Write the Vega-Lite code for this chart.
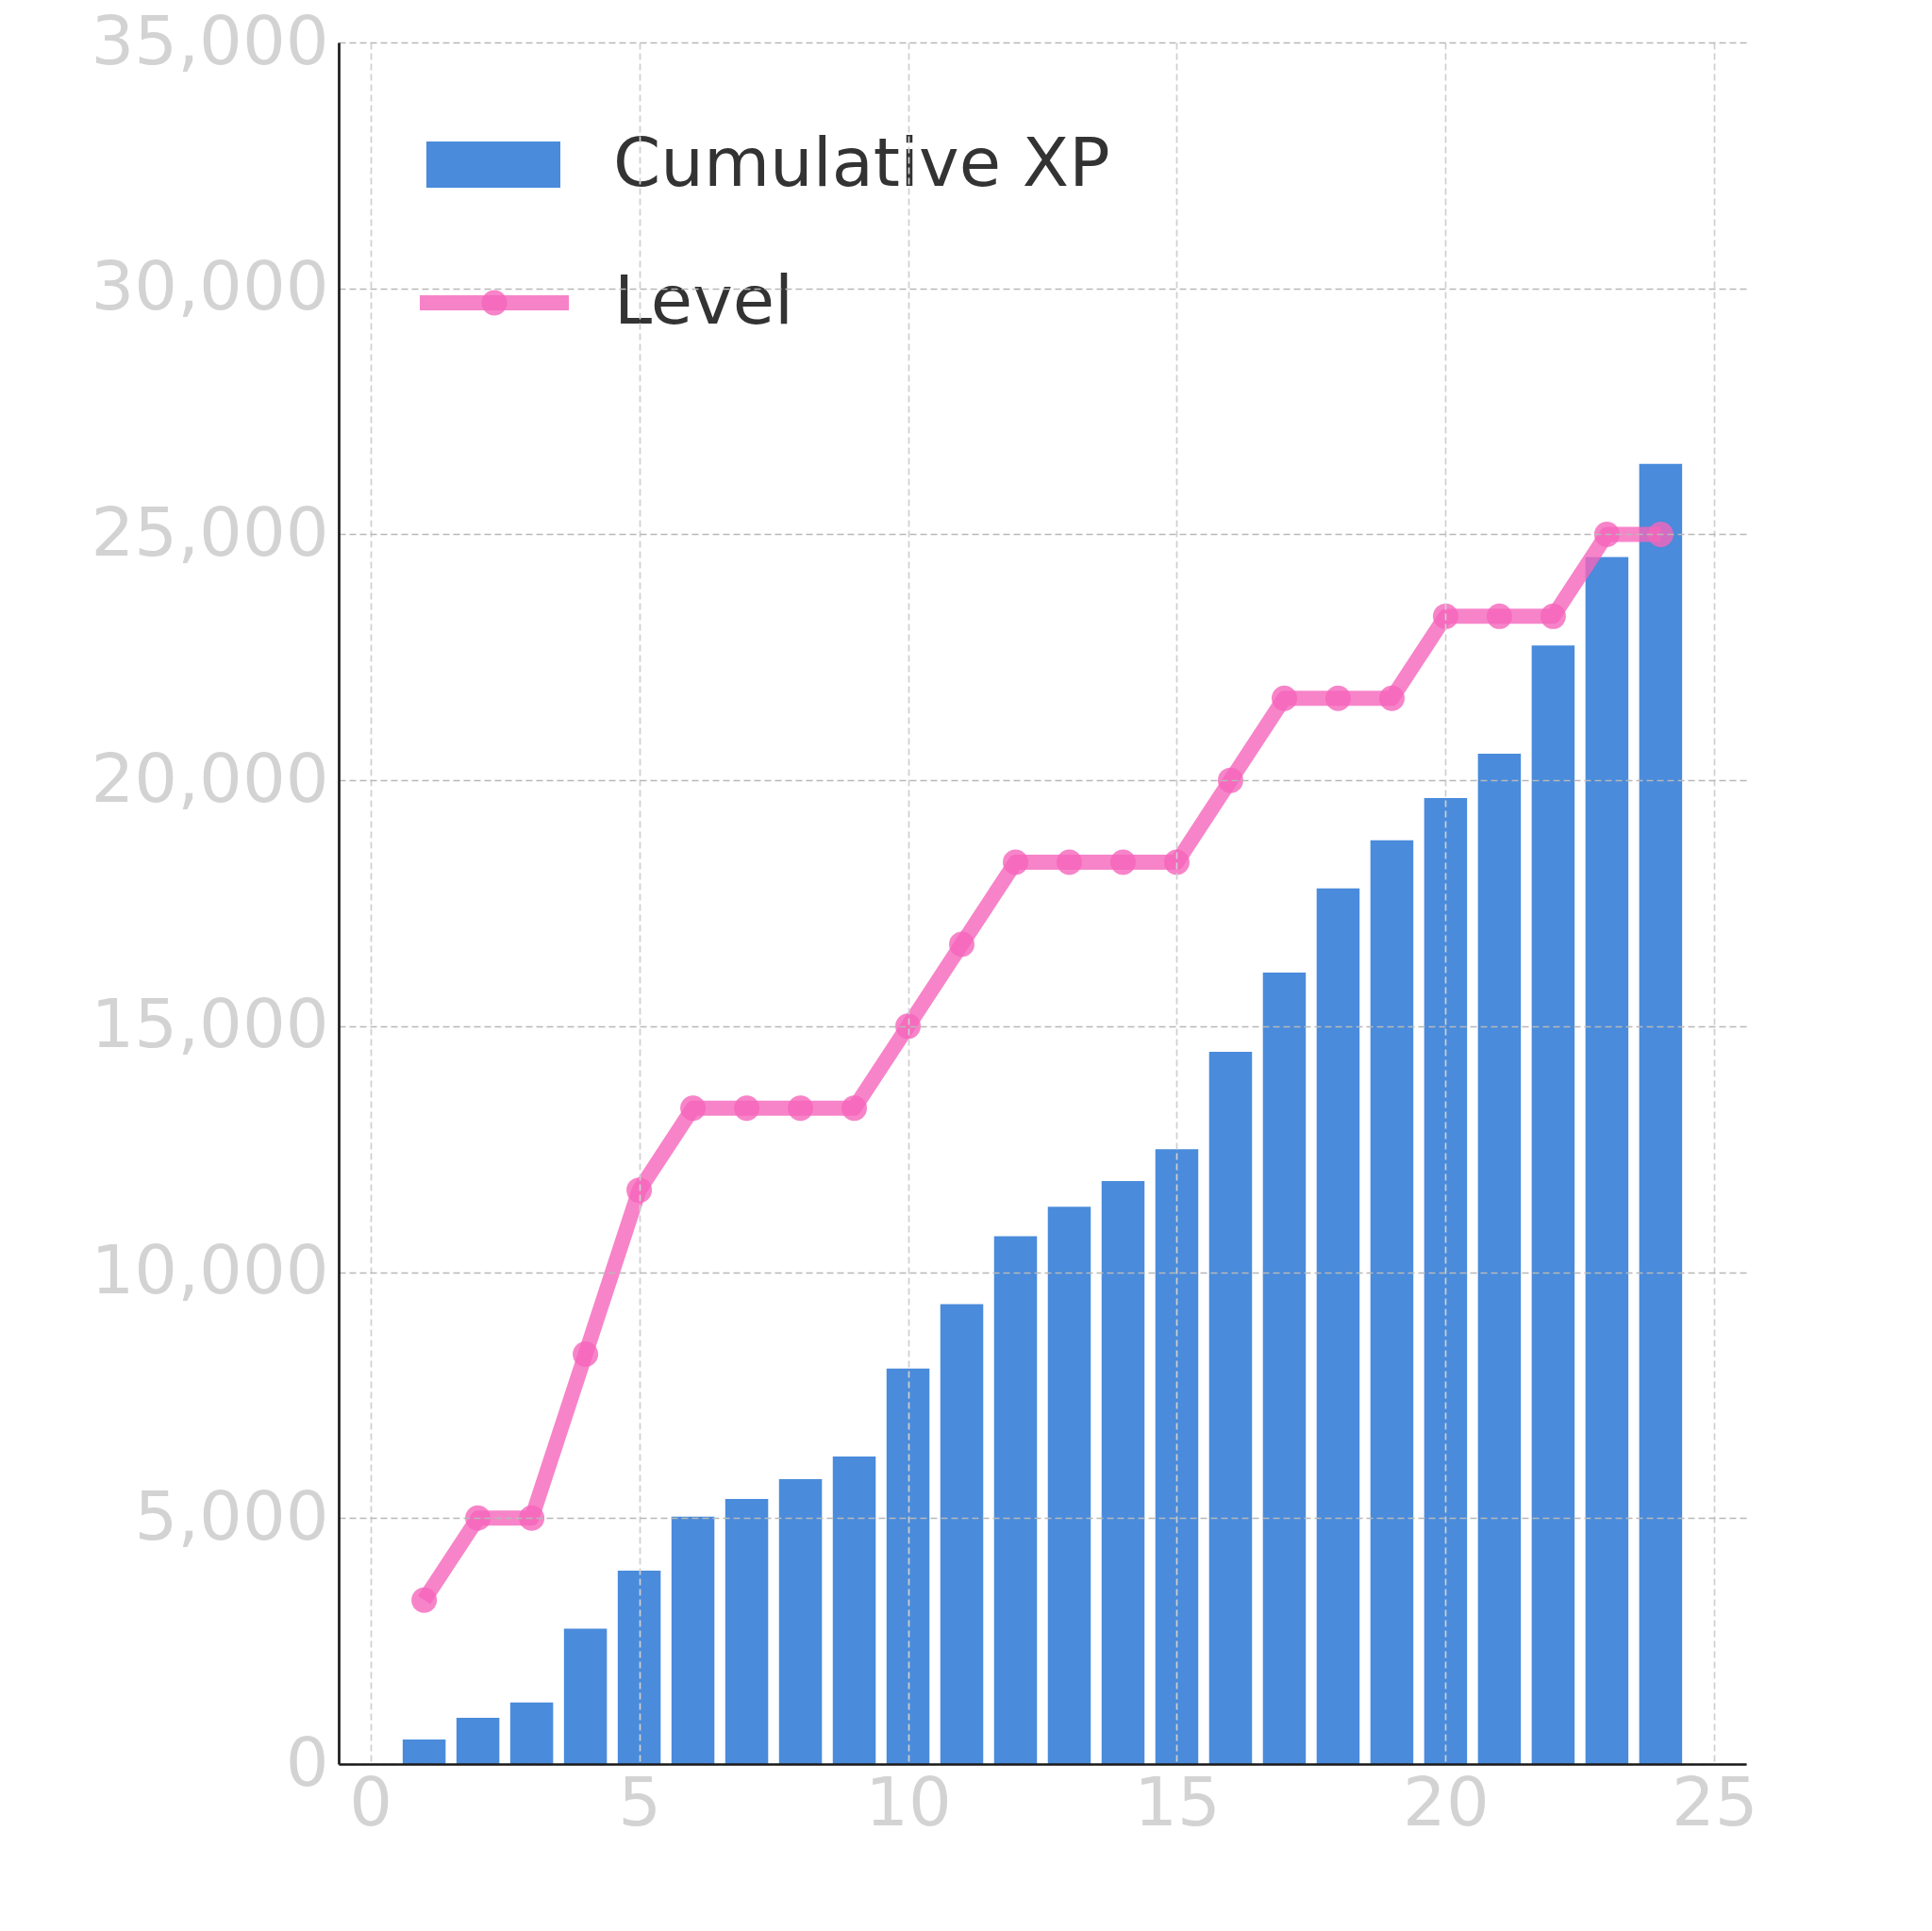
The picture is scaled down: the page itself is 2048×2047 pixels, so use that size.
{
  "$schema": "https://vega.github.io/schema/vega-lite/v6.json",
  "width": 1492,
  "height": 1825,
  "autosize": {"type": "none"},
  "padding": {"left": 359, "top": 45, "right": 197, "bottom": 177},
  "background": "white",
  "config": {
    "font": "DejaVu Sans",
    "view": {"stroke": null},
    "axis": {
      "labelFont": "DejaVu Sans",
      "labelFontSize": 72,
      "labelColor": "#d3d3d3",
      "labelLimit": 0,
      "ticks": false,
      "tickSize": 0,
      "title": null,
      "gridDash": [7, 4],
      "gridWidth": 1.7,
      "labelFlush": false,
      "labelOverlap": false
    },
    "legend": {
      "labelFont": "DejaVu Sans",
      "labelFontSize": 72,
      "labelColor": "#333333",
      "labelLimit": 0,
      "padding": 0,
      "offset": 0
    }
  },
  "data": {
    "values": [
      {"session": 1, "xp": 500, "level": 2},
      {"session": 2, "xp": 940, "level": 3},
      {"session": 3, "xp": 1250, "level": 3},
      {"session": 4, "xp": 2750, "level": 5},
      {"session": 5, "xp": 3930, "level": 7},
      {"session": 6, "xp": 5030, "level": 8},
      {"session": 7, "xp": 5390, "level": 8},
      {"session": 8, "xp": 5790, "level": 8},
      {"session": 9, "xp": 6250, "level": 8},
      {"session": 10, "xp": 8040, "level": 9},
      {"session": 11, "xp": 9350, "level": 10},
      {"session": 12, "xp": 10730, "level": 11},
      {"session": 13, "xp": 11330, "level": 11},
      {"session": 14, "xp": 11850, "level": 11},
      {"session": 15, "xp": 12500, "level": 11},
      {"session": 16, "xp": 14480, "level": 12},
      {"session": 17, "xp": 16090, "level": 13},
      {"session": 18, "xp": 17800, "level": 13},
      {"session": 19, "xp": 18780, "level": 13},
      {"session": 20, "xp": 19640, "level": 14},
      {"session": 21, "xp": 20540, "level": 14},
      {"session": 22, "xp": 22740, "level": 14},
      {"session": 23, "xp": 24540, "level": 15},
      {"session": 24, "xp": 26430, "level": 15}
    ]
  },
  "layer": [
    {
      "mark": {"type": "bar", "width": 45.5, "color": "#4a8bdb"},
      "encoding": {
        "x": {
          "field": "session",
          "type": "quantitative",
          "scale": {"domain": [-0.59, 25.59], "nice": false, "zero": false, "padding": 0},
          "axis": {
            "values": [0, 5, 10, 15, 20, 25],
            "format": "d",
            "grid": true,
            "gridColor": "#cfcfcf",
            "domainColor": "#1a1a1a",
            "domainWidth": 2.7,
            "labelPadding": 7,
            "zindex": 1
          }
        },
        "y": {
          "field": "xp",
          "type": "quantitative",
          "scale": {"domain": [0, 35000], "nice": false, "padding": 0},
          "axis": {
            "orient": "left",
            "values": [0, 5000, 10000, 15000, 20000, 25000, 30000, 35000],
            "format": ",d",
            "grid": true,
            "gridColor": "#b8b8b8",
            "domainColor": "#1a1a1a",
            "domainWidth": 2.7,
            "labelPadding": 11,
            "zindex": 1
          }
        },
        "fill": {
          "datum": "Cumulative XP",
          "type": "nominal",
          "scale": {"range": ["#4a8bdb"]},
          "legend": {
            "orient": "none",
            "legendX": 93,
            "legendY": 58.5,
            "title": null,
            "symbolType": "M-1,-0.345H1V0.345H-1Z",
            "symbolSize": 20164,
            "symbolStrokeWidth": 0,
            "symbolOpacity": 1,
            "labelOffset": 56
          }
        }
      }
    },
    {
      "layer": [
        {
          "mark": {"type": "line", "strokeWidth": 16, "opacity": 0.8, "strokeJoin": "round", "strokeCap": "butt"},
          "encoding": {
            "x": {"field": "session", "type": "quantitative"},
            "y": {
              "field": "level",
              "type": "quantitative",
              "scale": {"domain": [0, 21], "nice": false, "padding": 0},
              "axis": {
                "orient": "right",
                "values": [0, 3, 6, 9, 12, 15, 18, 21],
                "format": "d",
                "grid": false,
                "domain": false,
                "labelPadding": 6
              }
            },
            "stroke": {
              "datum": "Level",
              "type": "nominal",
              "scale": {"range": ["#f565bb"]},
              "legend": {
                "orient": "none",
                "legendX": 78,
                "legendY": 189,
                "title": null,
                "symbolType": "stroke",
                "symbolSize": 24964,
                "symbolStrokeWidth": 16,
                "symbolOpacity": 0.8,
                "labelOffset": 40
              }
            }
          }
        },
        {
          "mark": {"type": "point", "filled": true, "size": 729, "opacity": 0.8, "color": "#f565bb", "strokeWidth": 0},
          "encoding": {
            "x": {"field": "session", "type": "quantitative"},
            "y": {"field": "level", "type": "quantitative", "axis": null},
            "shape": {
              "datum": "dot",
              "type": "nominal",
              "scale": {"range": ["circle"]},
              "legend": {
                "orient": "none",
                "legendX": 151.5,
                "legendY": 262.5,
                "title": null,
                "symbolSize": 729,
                "symbolFillColor": "#f565bb",
                "symbolStrokeWidth": 0,
                "symbolOpacity": 0.8,
                "labelFontSize": 1,
                "labelColor": "transparent",
                "labelExpr": "''",
                "labelOffset": 0
              }
            }
          }
        }
      ]
    }
  ],
  "resolve": {"scale": {"y": "independent"}}
}
